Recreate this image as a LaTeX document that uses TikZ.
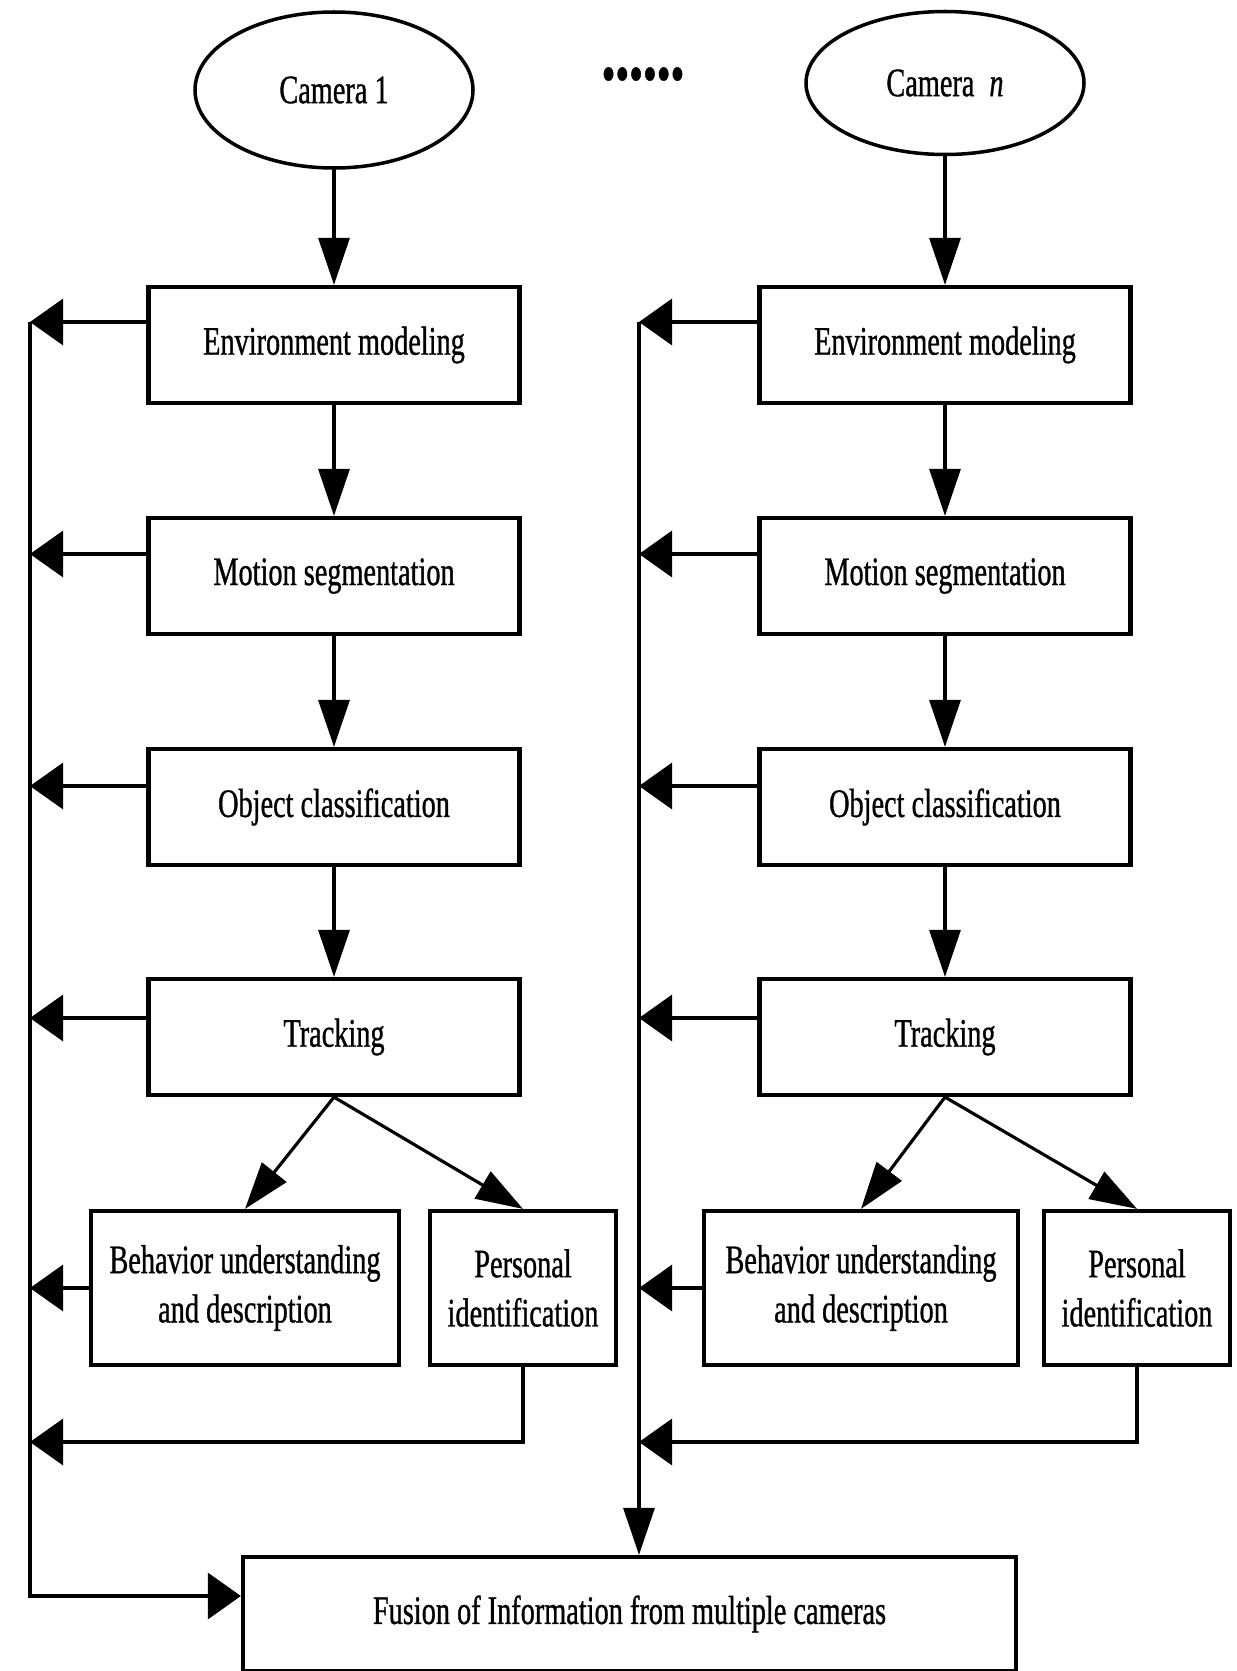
\documentclass[tikz,border=0pt]{standalone}
\usepackage{fontspec}
\setmainfont{Liberation Serif}[FakeStretch=0.7, FakeBold=0.8]
\usetikzlibrary{shapes.geometric, arrows.meta}
\tikzset{
    every node/.style={font=\fontsize{23}{28}\selectfont, align=center},
    box/.style={rectangle, draw, line width=2.4pt, minimum width=7.42cm,
    	minimum height=2.32cm, inner sep=0pt},
    cam/.style={ellipse, draw, line width=2pt, inner sep=0pt},
    down/.style={line width=1.8pt, -{Triangle[length=0.94cm, width=0.62cm]}},
    side/.style={line width=1.8pt, -{Triangle[length=0.66cm, width=0.92cm]}}
}

\begin{document}
\begin{tikzpicture}
  \useasboundingbox (0cm, 0cm) rectangle (24.74cm, -33.42cm);

  \node (cam1) [cam, minimum width=5.56cm, minimum height=3.12cm] at (6.68cm, -1.8cm) {Camera 1};
  \node (camn) [cam, minimum width=5.56cm, minimum height=2.86cm] at (18.9cm, -1.66cm) {Camera\hspace{0.3cm}\textit{n}};
  \node (dots) [font=\fontsize{32}{32}\selectfont] at (12.86cm, -1.6cm) {••••••};

  \node (env1) [box] at (6.68cm, -6.9cm) {Environment modeling};
  \node (mot1) [box] at (6.68cm, -11.52cm) {Motion segmentation};
  \node (obj1) [box] at (6.68cm, -16.14cm) {Object classification};
  \node (trk1) [box] at (6.68cm, -20.74cm) {Tracking};
  \node (beh1) [box, minimum width=6.16cm, minimum height=3.08cm] at (4.9cm, -25.76cm) {Behavior understanding\\and description};
  \node (per1) [box, minimum width=3.72cm, minimum height=3.08cm] at (10.46cm, -25.76cm) {Personal\\identification};

  \node (envn) [box] at (18.9cm, -6.9cm) {Environment modeling};
  \node (motn) [box] at (18.9cm, -11.52cm) {Motion segmentation};
  \node (objn) [box] at (18.9cm, -16.14cm) {Object classification};
  \node (trkn) [box] at (18.9cm, -20.74cm) {Tracking};
  \node (behn) [box, minimum width=6.28cm, minimum height=3.08cm] at (17.22cm, -25.76cm) {Behavior understanding\\and description};
  \node (pern) [box, minimum width=3.72cm, minimum height=3.08cm] at (22.74cm, -25.76cm) {Personal\\identification};

  \node (fus) [box, minimum width=15.46cm, minimum height=2.28cm] at (12.59cm, -32.28cm) {Fusion of Information from multiple cameras};

  \coordinate (l1) at (0.6cm, -6.44cm);
  \coordinate (l2) at (0.6cm, -11.08cm);
  \coordinate (l3) at (0.6cm, -15.72cm);
  \coordinate (l4) at (0.6cm, -20.36cm);
  \coordinate (l5) at (0.6cm, -25.76cm);
  \coordinate (l6) at (0.6cm, -28.84cm);
  \coordinate (l7) at (0.6cm, -31.92cm);
  \coordinate (r1) at (12.78cm, -6.44cm);
  \coordinate (r2) at (12.78cm, -11.08cm);
  \coordinate (r3) at (12.78cm, -15.72cm);
  \coordinate (r4) at (12.78cm, -20.36cm);
  \coordinate (r5) at (12.78cm, -25.76cm);
  \coordinate (r6) at (12.78cm, -28.84cm);

  \draw (cam1) edge [down] (env1);
  \draw (env1) edge [down] (mot1);
  \draw (mot1) edge [down] (obj1);
  \draw (obj1) edge [down] (trk1);
  \draw (trk1.south) edge [down] (beh1.north);
  \draw (trk1.south) edge [down] (per1.north);

  \draw (camn) edge [down] (envn);
  \draw (envn) edge [down] (motn);
  \draw (motn) edge [down] (objn);
  \draw (objn) edge [down] (trkn);
  \draw (trkn.south) edge [down] (behn.north);
  \draw (trkn.south) edge [down] (pern.north);

  \draw (env1.west |- l1) edge [side] (l1);
  \draw (mot1.west |- l2) edge [side] (l2);
  \draw (obj1.west |- l3) edge [side] (l3);
  \draw (trk1.west |- l4) edge [side] (l4);
  \draw (beh1.west |- l5) edge [side] (l5);
  \draw [side] (per1.south) |- (l6);
  \draw [side] (l1) -- (l7) -- (fus.west |- l7);

  \draw (envn.west |- r1) edge [side] (r1);
  \draw (motn.west |- r2) edge [side] (r2);
  \draw (objn.west |- r3) edge [side] (r3);
  \draw (trkn.west |- r4) edge [side] (r4);
  \draw (behn.west |- r5) edge [side] (r5);
  \draw [side] (pern.south) |- (r6);
  \draw [down] (r1) -- (r1 |- fus.north);
\end{tikzpicture}
\end{document}
